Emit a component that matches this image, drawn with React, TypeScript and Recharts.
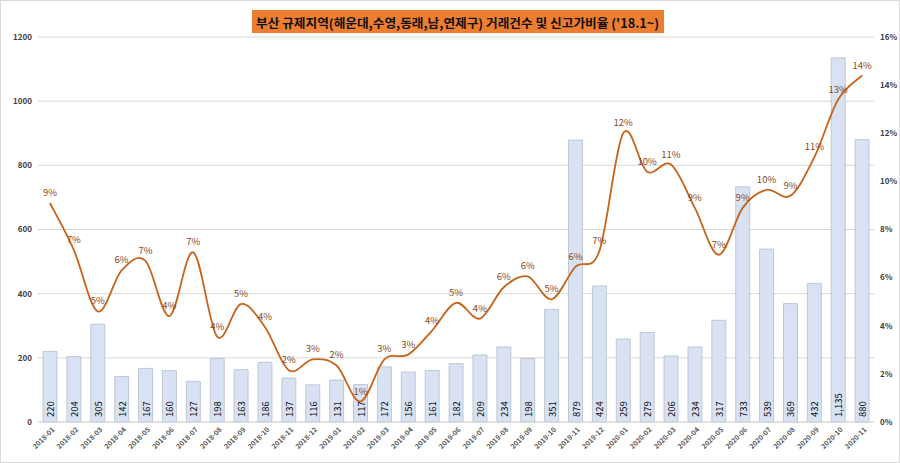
import React from "react";
import {
  ComposedChart,
  Bar,
  Line,
  XAxis,
  YAxis,
  CartesianGrid,
  LabelList,
} from "recharts";

const months = [
  "2018-01", "2018-02", "2018-03", "2018-04", "2018-05", "2018-06", "2018-07", "2018-08", "2018-09", "2018-10", "2018-11", "2018-12",
  "2019-01", "2019-02", "2019-03", "2019-04", "2019-05", "2019-06", "2019-07", "2019-08", "2019-09", "2019-10", "2019-11", "2019-12",
  "2020-01", "2020-02", "2020-03", "2020-04", "2020-05", "2020-06", "2020-07", "2020-08", "2020-09", "2020-10", "2020-11",
];

const deals = [
  220, 204, 305, 142, 167, 160, 127, 198, 163, 186, 137, 116,
  131, 117, 172, 156, 161, 182, 209, 234, 198, 351, 879, 424,
  259, 279, 206, 234, 317, 733, 539, 369, 432, 1135, 880,
];

const highRatio = [
  9.1, 7.15, 4.6, 6.3, 6.7, 4.4, 7.05, 3.55, 4.9, 3.95, 2.15, 2.6,
  2.35, 0.85, 2.6, 2.8, 3.8, 4.95, 4.3, 5.6, 6.05, 5.1, 6.45, 7.1,
  12.0, 10.4, 10.7, 8.9, 6.95, 8.9, 9.65, 9.4, 11.0, 13.4, 14.4,
];

const leftTicks = [0, 200, 400, 600, 800, 1000, 1200];
const rightTicks = [0, 2, 4, 6, 8, 10, 12, 14, 16];

const titleText = "부산 규제지역(해운대,수영,동래,남,연제구) 거래건수 및 신고가비율 ('18.1~)";

const data = months.map((m, i) => ({ month: m, deals: deals[i], ratio: highRatio[i] }));

const FONT = "'Noto Sans CJK KR', 'Noto Sans', sans-serif";

// Excel-like smoothed line (Catmull-Rom style bezier through points)
function excelCurve(context: any) {
  let pts: number[][] = [];
  return {
    areaStart() {},
    areaEnd() {},
    lineStart() {
      pts = [];
    },
    point(x: number, y: number) {
      pts.push([+x, +y]);
    },
    lineEnd() {
      if (!pts.length) return;
      context.moveTo(pts[0][0], pts[0][1]);
      for (let i = 0; i < pts.length - 1; i++) {
        const p0 = pts[Math.max(i - 1, 0)];
        const p1 = pts[i];
        const p2 = pts[i + 1];
        const p3 = pts[Math.min(i + 2, pts.length - 1)];
        const c1x = p1[0] + (p2[0] - p0[0]) / 6;
        const c1y = p1[1] + (p2[1] - p0[1]) / 6;
        const c2x = p2[0] - (p3[0] - p1[0]) / 6;
        const c2y = p2[1] - (p3[1] - p1[1]) / 6;
        context.bezierCurveTo(c1x, c1y, c2x, c2y, p2[0], p2[1]);
      }
    },
  };
}

const XTick = (props: any) => {
  const { x, y, payload } = props;
  return (
    <text
      x={x + 3}
      y={y - 2}
      transform={`rotate(-45, ${x + 3}, ${y - 2})`}
      textAnchor="end"
      dominantBaseline="central"
      fontSize={7}
      fontWeight="bold"
      fill="#595959"
      fontFamily={FONT}
    >
      {payload.value}
    </text>
  );
};

const BarValueLabel = (props: any) => {
  const { x, width, value } = props;
  const cx = x + width / 2;
  const by = 417;
  return (
    <text
      x={cx}
      y={by}
      transform={`rotate(-90, ${cx}, ${by})`}
      textAnchor="start"
      dominantBaseline="central"
      fontSize={9.5}
      fill="#111111"
      fontFamily={FONT}
    >
      {Number(value).toLocaleString("en-US")}
    </text>
  );
};

const LineValueLabel = (props: any) => {
  const { x, y, value } = props;
  return (
    <text
      x={x}
      y={y - 11}
      textAnchor="middle"
      dominantBaseline="central"
      fontSize={9.5}
      fill="#8A4A1E"
      fontFamily={FONT}
    >
      {`${Math.round(value)}%`}
    </text>
  );
};

export default function App() {
  return (
    <div
      style={{
        position: "absolute",
        left: 0,
        top: 0,
        width: 900,
        height: 463,
        background: "#ffffff",
        boxSizing: "border-box",
        border: "1px solid #D9D9D9",
        fontFamily: FONT,
      }}
    >
      <div
        style={{
          position: "absolute",
          left: 251,
          top: 9,
          width: 412,
          height: 23,
          background: "#ED7D31",
          zIndex: 2,
        }}
      >
        <svg width={412} height={23}>
          <text
            x={4}
            y={12}
            dominantBaseline="central"
            fontSize={12.5}
            fontWeight="bold"
            fill="#111111"
            fontFamily={FONT}
            textLength={403}
            lengthAdjust="spacingAndGlyphs"
          >
            {titleText}
          </text>
        </svg>
      </div>
      <div style={{ position: "absolute", left: -1, top: -1 }}>
        <ComposedChart
          width={900}
          height={463}
          data={data}
          margin={{ top: 37, right: 0, bottom: 0, left: 0 }}
          barCategoryGap="21%"
        >
          <CartesianGrid vertical={false} stroke="#D9D9D9" yAxisId="left" />
          <XAxis
            dataKey="month"
            interval={0}
            height={41}
            tick={<XTick />}
            tickLine={false}
            axisLine={{ stroke: "#D9D9D9" }}
          />
          <YAxis
            yAxisId="left"
            domain={[0, 1200]}
            ticks={leftTicks}
            width={38}
            tickSize={4}
            tickLine={false}
            axisLine={false}
            tick={{ fontSize: 8, fill: "#404040", fontWeight: "bold", fontFamily: FONT }}
          />
          <YAxis
            yAxisId="right"
            orientation="right"
            domain={[0, 16]}
            ticks={rightTicks}
            width={26}
            tickSize={4}
            tickLine={false}
            axisLine={false}
            tickFormatter={(v: number) => `${v}%`}
            tick={{ fontSize: 8, fill: "#404040", fontWeight: "bold", fontFamily: FONT, textAnchor: "start" }}
          />
          <Bar
            yAxisId="left"
            dataKey="deals"
            fill="#D9E2F3"
            stroke="#AEB6C6"
            strokeWidth={0.7}
            isAnimationActive={false}
          >
            <LabelList dataKey="deals" content={<BarValueLabel />} />
          </Bar>
          <Line
            yAxisId="right"
            dataKey="ratio"
            type={excelCurve as any}
            stroke="#C8631A"
            strokeWidth={1.8}
            dot={false}
            activeDot={false}
            isAnimationActive={false}
          >
            <LabelList dataKey="ratio" content={<LineValueLabel />} />
          </Line>
        </ComposedChart>
      </div>
    </div>
  );
}
